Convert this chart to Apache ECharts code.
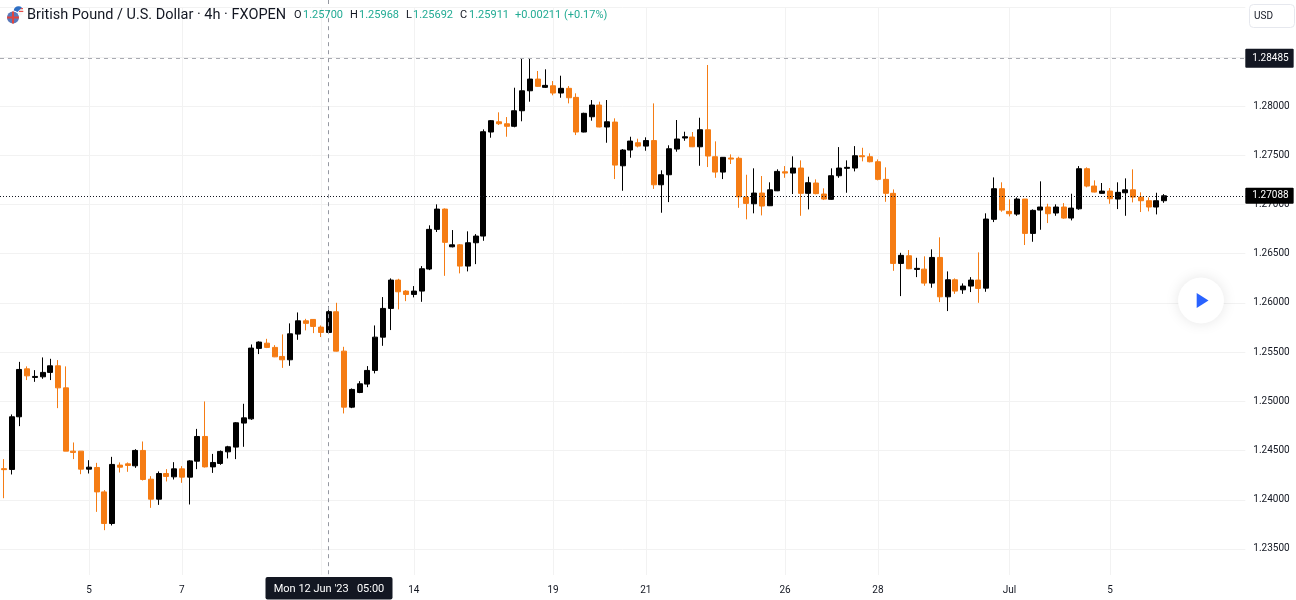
<!DOCTYPE html>
<html>
<head>
<meta charset="utf-8">
<script src="https://cdn.jsdelivr.net/npm/echarts@6/dist/echarts.min.js"></script>
<style>
  html, body { margin: 0; padding: 0; background: #fff; }
  #chart { width: 1296px; height: 600px; }
</style>
</head>
<body>
<div id="chart"></div>
<script>
// GBP/USD 4h candles
const opens = [1.24316,1.24308,1.24843,1.2533,1.25243,1.25249,1.25294,1.25361,1.25137,1.24494,
  1.24494,1.24311,1.24328,1.2408,1.23759,1.24352,1.24365,1.24345,1.24501,1.24209,
  1.24006,1.24267,1.24233,1.24314,1.2423,1.24392,1.24643,1.24334,1.24369,1.24487,
  1.24535,1.24779,1.24822,1.25538,1.25591,1.25548,1.25456,1.25422,1.25683,1.25818,
  1.25832,1.25754,1.257,1.2591,1.2551,1.24941,1.2509,1.25175,1.25314,1.25652,
  1.25944,1.26232,1.2612,1.26086,1.2612,1.26344,1.26747,1.26953,1.2657,1.2659,
  1.26374,1.26611,1.26679,1.27736,1.2784,1.2782,1.27794,1.27952,1.28155,1.28274,
  1.2819,1.28206,1.28132,1.2818,1.28088,1.27736,1.27891,1.2801,1.27787,1.27837,
  1.27393,1.27553,1.27627,1.27593,1.27649,1.272,1.27302,1.27563,1.27675,1.27685,
  1.27586,1.27759,1.27485,1.27329,1.27472,1.27469,1.27075,1.27007,1.27116,1.26987,
  1.27139,1.27332,1.27319,1.2737,1.27113,1.27218,1.27106,1.27052,1.27292,1.27367,
  1.2737,1.27495,1.27485,1.27434,1.27255,1.27113,1.26401,1.26479,1.2634,1.26343,
  1.26201,1.26462,1.26062,1.26235,1.26133,1.26171,1.26232,1.2615,1.26849,1.2716,
  1.2693,1.26902,1.27055,1.26706,1.26943,1.26974,1.26913,1.26974,1.26862,1.26956,
  1.27363,1.27187,1.27113,1.27136,1.27055,1.27119,1.27149,1.27075,1.27038,1.26974,1.27038];
const closes = [1.24306,1.24843,1.25324,1.25259,1.25253,1.25294,1.25361,1.25137,1.24494,1.24481,
  1.24311,1.24331,1.2408,1.23759,1.24359,1.24331,1.24349,1.24501,1.24206,1.24006,
  1.24267,1.24237,1.24314,1.2423,1.24395,1.24643,1.24334,1.24379,1.24491,1.24538,
  1.24782,1.24832,1.25541,1.25602,1.25548,1.25452,1.25422,1.25686,1.25818,1.25792,
  1.25761,1.257,1.25911,1.2551,1.24941,1.25121,1.25178,1.25314,1.25652,1.25944,
  1.26232,1.26113,1.26086,1.2612,1.26347,1.26747,1.26953,1.26615,1.2659,1.26374,
  1.26611,1.26679,1.27739,1.27851,1.2782,1.27794,1.27952,1.28155,1.28274,1.282,
  1.2821,1.28132,1.2818,1.28084,1.27736,1.27926,1.2801,1.27787,1.2784,1.274,
  1.27553,1.27644,1.27593,1.27649,1.272,1.27302,1.27566,1.27665,1.27688,1.27586,
  1.27759,1.27492,1.27329,1.27479,1.27461,1.27078,1.27011,1.27116,1.26984,1.27149,
  1.27336,1.27319,1.2737,1.27113,1.27221,1.2711,1.27055,1.27292,1.2737,1.27377,
  1.27495,1.27485,1.27434,1.27255,1.27113,1.26401,1.26483,1.26347,1.26351,1.26201,
  1.26462,1.26062,1.26235,1.2612,1.26171,1.26232,1.26147,1.26852,1.2716,1.26943,
  1.26906,1.27055,1.26706,1.2694,1.26974,1.26906,1.26974,1.26862,1.26963,1.27363,
  1.27187,1.27126,1.27136,1.27058,1.27123,1.27149,1.27075,1.27038,1.26974,1.27038,1.27088];
const highs = [1.24413,1.24867,1.25401,1.25355,1.25317,1.25446,1.25432,1.25419,1.25355,1.24582,
  1.24494,1.24402,1.24375,1.24098,1.24436,1.24379,1.24379,1.24514,1.24592,1.2424,
  1.24288,1.24311,1.24382,1.24342,1.24402,1.2472,1.24999,1.24466,1.24501,1.24548,
  1.24789,1.24975,1.25578,1.25609,1.25635,1.25571,1.2568,1.25792,1.25903,1.25838,
  1.25835,1.25771,1.25968,1.26001,1.25554,1.25131,1.25205,1.25358,1.25771,1.26059,
  1.26249,1.26245,1.2613,1.26171,1.26374,1.26788,1.27001,1.2696,1.2674,1.26598,
  1.26727,1.26699,1.27763,1.27858,1.27936,1.27888,1.28186,1.28485,1.28478,1.28356,
  1.28373,1.28254,1.28308,1.28203,1.28129,1.27932,1.28061,1.28044,1.28061,1.27875,
  1.27563,1.27688,1.27668,1.27682,1.28027,1.27347,1.27601,1.27858,1.27739,1.27736,
  1.27881,1.28417,1.27641,1.27482,1.27509,1.27485,1.27302,1.27367,1.27289,1.27225,
  1.27357,1.2739,1.27489,1.27448,1.27282,1.27255,1.27164,1.27367,1.27583,1.27448,
  1.27593,1.27576,1.27519,1.27458,1.27377,1.27153,1.26509,1.26537,1.26458,1.26473,
  1.26544,1.26666,1.2632,1.26249,1.26198,1.26262,1.26513,1.2691,1.27275,1.27225,
  1.27052,1.27072,1.27055,1.2695,1.27235,1.27007,1.27001,1.27014,1.27109,1.2739,
  1.27377,1.27245,1.27218,1.27167,1.27225,1.27265,1.27357,1.27123,1.27072,1.27119,1.27105];
const lows = [1.24016,1.24257,1.24748,1.25216,1.25198,1.25229,1.25216,1.24931,1.24494,1.24413,
  1.2426,1.24267,1.23877,1.23691,1.23739,1.24277,1.24284,1.24324,1.24196,1.23918,
  1.23948,1.24186,1.24206,1.24172,1.23952,1.24311,1.24328,1.24273,1.24355,1.2442,
  1.24413,1.24538,1.24812,1.2548,1.25541,1.25449,1.2534,1.25361,1.25625,1.25721,
  1.25693,1.25653,1.25692,1.25507,1.24877,1.24931,1.25083,1.25144,1.25284,1.25564,
  1.25724,1.25934,1.26018,1.26056,1.26011,1.26333,1.2672,1.26275,1.26564,1.263,
  1.2632,1.26394,1.26631,1.27678,1.27807,1.27688,1.27784,1.27845,1.28044,1.28196,
  1.28183,1.28109,1.28084,1.28027,1.27705,1.27733,1.27851,1.27784,1.27627,1.27258,
  1.27139,1.27475,1.2758,1.27546,1.27158,1.26916,1.27024,1.27536,1.27647,1.27583,
  1.27393,1.2738,1.27271,1.27258,1.27411,1.26966,1.26849,1.2691,1.26889,1.26984,
  1.27136,1.27271,1.27106,1.26885,1.2695,1.27103,1.27045,1.27048,1.27271,1.27119,
  1.27336,1.27438,1.27428,1.27245,1.27027,1.26326,1.26069,1.26343,1.26262,1.26174,
  1.26154,1.26008,1.25917,1.26092,1.26092,1.2611,1.26001,1.26113,1.26821,1.26926,
  1.26879,1.26885,1.26588,1.26621,1.26743,1.26811,1.26885,1.26855,1.26838,1.26946,
  1.27174,1.27123,1.27109,1.27007,1.26953,1.26885,1.27021,1.26923,1.2693,1.26899,1.27017];

const tickIndex = [11, 23, 41, 53, 71, 83, 101, 113, 130, 143];
const tickLabels = ['5', '7', '12', '14', '19', '21', '26', '28', 'Jul', '5'];
const emptyBars = 10;

const highLine = 1.28485;
const lastPrice = 1.27088;
const crosshairIndex = 42;
const crosshairText = "Mon 12 Jun '23   05:00";

const headerText = 'British Pound / U.S. Dollar · 4h · FXOPEN';
const ohlcLabels = ['O', 'H', 'L', 'C'];
const ohlcValues = ['1.25700', '1.25968', '1.25692', '1.25911'];
const changeText = '+0.00211 (+0.17%)';

const font = 'Roboto, sans-serif';
const inkColor = '#131722';
const upColor = '#000000';
const downColor = '#f57c14';
const gridColor = '#f2f2f2';
const tealColor = '#22ab94';
const crossColor = '#9598a1';

const candles = opens.map((o, i) => [o, closes[i], lows[i], highs[i]]);
const categories = [];
for (let i = 0; i < opens.length + emptyBars; i++) {
  const t = tickIndex.indexOf(i);
  categories.push(t >= 0 ? tickLabels[t] : '');
}
const isTick = idx => tickIndex.indexOf(idx) >= 0;

function text(x, y, str, color, size, align) {
  return {
    type: 'text', x: x, y: y, z: 8,
    style: { text: str, fill: color, font: size + 'px ' + font, textAlign: align || 'left', textVerticalAlign: 'middle' }
  };
}

const ohlcX = [294, 350, 406, 460];
const ohlcGraphics = [];
ohlcLabels.forEach((l, i) => {
  ohlcGraphics.push(text(ohlcX[i], 15, l, inkColor, 11));
  ohlcGraphics.push(text(ohlcX[i] + (i == 2 ? 7 : 9), 15, ohlcValues[i], tealColor, 11));
});

const chart = echarts.init(document.getElementById('chart'));
chart.setOption({
  animation: false,
  backgroundColor: '#ffffff',
  grid: { left: 0, right: 50.7, top: 7.6, bottom: 1.8 },
  xAxis: [
    {
      type: 'category',
      position: 'bottom',
      data: categories,
      z: 0,
      axisLine: { show: false },
      axisTick: { show: false },
      axisLabel: { show: false },
      splitLine: {
        show: true,
        alignWithLabel: true,
        interval: idx => isTick(idx),
        lineStyle: { color: gridColor, width: 1 }
      }
    },
    {
      type: 'category',
      position: 'bottom',
      data: categories,
      z: 5,
      axisLine: { show: false },
      axisTick: { show: false },
      splitLine: { show: false },
      axisLabel: {
        inside: true,
        margin: 3,
        interval: idx => isTick(idx),
        color: inkColor,
        fontFamily: font,
        fontSize: 10
      }
    }
  ],
  yAxis: {
    type: 'value',
    position: 'right',
    min: 1.23,
    max: 1.29,
    interval: 0.005,
    axisLine: { show: false },
    axisTick: { show: false },
    splitLine: { show: true, lineStyle: { color: gridColor, width: 1 } },
    axisLabel: {
      margin: 8,
      color: inkColor,
      fontFamily: font,
      fontSize: 10,
      formatter: v => (v > 1.2325 && v < 1.2875) ? v.toFixed(5) : ''
    }
  },
  series: [{
    type: 'candlestick',
    xAxisIndex: 0,
    barWidth: 5.5,
    data: candles,
    itemStyle: {
      color: upColor,
      color0: downColor,
      borderColor: upColor,
      borderColor0: downColor,
      borderColorDoji: upColor,
      borderWidth: 1
    },
    markLine: {
      silent: true,
      symbol: 'none',
      animation: false,
      precision: 5,
      data: [
        {
          yAxis: highLine,
          lineStyle: { color: '#a9abb2', type: [4, 4], width: 1 },
          label: {
            show: true, position: 'end', distance: 0, formatter: highLine.toFixed(5),
            color: '#fff', fontFamily: font, fontSize: 10,
            backgroundColor: inkColor, padding: [5, 5, 4, 7], borderRadius: 1
          }
        },
        {
          yAxis: lastPrice,
          lineStyle: { color: inkColor, type: [1, 2], width: 1 },
          label: {
            show: true, position: 'end', distance: 0, formatter: lastPrice.toFixed(5),
            color: '#fff', fontFamily: font, fontSize: 10,
            backgroundColor: '#000', padding: [3, 5, 3, 7], borderRadius: 1
          }
        },
        {
          xAxis: crosshairIndex,
          lineStyle: { color: crossColor, type: [4, 4], width: 1 },
          label: { show: false }
        }
      ]
    }
  }],
  graphic: [
    // band under the plot, covers the bottom ends of the grid lines
    { type: 'rect', z: 3, shape: { x: 0, y: 575, width: 1296, height: 25 }, style: { fill: '#fff' } },
    // crosshair goes on above the plot area
    { type: 'line', z: 3, shape: { x1: 328.5, y1: 0, x2: 328.5, y2: 4 }, style: { stroke: crossColor, lineWidth: 1 } },
    // header logo, US disc behind the UK disc
    { type: 'circle', z: 8, shape: { cx: 18.5, cy: 11, r: 4.8 }, style: { fill: '#f7f7f7' } },
    { type: 'rect', z: 8, shape: { x: 20, y: 8, width: 3, height: 1.2 }, style: { fill: '#e8504a' } },
    { type: 'rect', z: 8, shape: { x: 19, y: 10.8, width: 4.3, height: 1.2 }, style: { fill: '#e8504a' } },
    { type: 'sector', z: 8, shape: { cx: 18.5, cy: 11, r: 4.8, startAngle: Math.PI * 0.75, endAngle: Math.PI * 1.75 }, style: { fill: '#2f6fc4' } },
    { type: 'circle', z: 8, shape: { cx: 13, cy: 17.5, r: 7 }, style: { fill: '#fff' } },
    { type: 'circle', z: 8, shape: { cx: 13, cy: 17.5, r: 6 }, style: { fill: '#5a78b8' } },
    { type: 'rect', z: 8, shape: { x: 7, y: 16.5, width: 12, height: 2 }, style: { fill: '#e0443e' } },
    { type: 'rect', z: 8, shape: { x: 12, y: 11.5, width: 2, height: 12 }, style: { fill: '#e0443e' } },
    text(27, 15, headerText, inkColor, 14.5),
    ...ohlcGraphics,
    text(515, 15, changeText, tealColor, 11),
    // currency button
    { type: 'rect', z: 8, shape: { x: 1249.5, y: 4.5, width: 45, height: 23, r: 4 }, style: { fill: '#fff', stroke: '#e6e8ee' } },
    text(1254, 16, 'USD', inkColor, 10),
    // play button
    { type: 'circle', z: 8, shape: { cx: 1201, cy: 300.5, r: 23 }, style: { fill: '#fff', shadowBlur: 14, shadowColor: 'rgba(0,0,0,0.10)' } },
    { type: 'polygon', z: 9, shape: { points: [[1196.7, 293], [1208.5, 300.5], [1196.7, 308]] }, style: { fill: '#2962ff' } },
    // crosshair time label
    { type: 'rect', z: 8, shape: { x: 265.5, y: 577, width: 127, height: 22.5, r: 2 }, style: { fill: inkColor } },
    text(329, 589.5, crosshairText, '#fff', 11, 'center')
  ]
});
</script>
</body>
</html>
